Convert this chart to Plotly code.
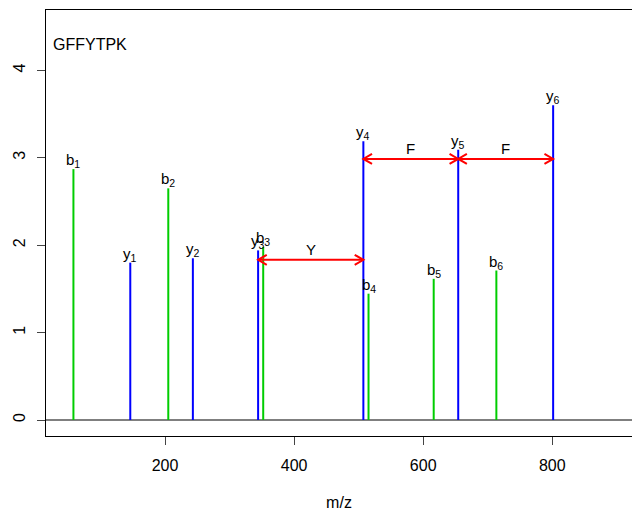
import math
import plotly.graph_objects as go

# ---- data ----
peptide = "GFFYTPK"
b_labels = ["1", "2", "3", "4", "5", "6"]
b_mz = [58.0, 205.0, 352.1, 515.3, 616.3, 713.4]
b_int = [2.87, 2.65, 1.98, 1.445, 1.615, 1.71]
y_labels = ["1", "2", "3", "4", "5", "6"]
y_mz = [146.1, 243.1, 344.2, 507.3, 654.3, 801.4]
y_int = [1.80, 1.85, 1.94, 3.19, 3.09, 3.60]
gap_from = [2, 3, 4]          # index into y ions
gap_to = [3, 4, 5]
gap_res = ["Y", "F", "F"]
gap_height = [1.833, 2.987, 2.987]
x_ticks = [200, 400, 600, 800]
y_ticks = [0, 1, 2, 3, 4]

FONT = "Liberation Sans, Arial, Helvetica, sans-serif"
FS = 16
GREEN = "#00CD00"
BLUE = "#0000FF"
RED = "#FF0000"

W, H = 632, 511
M = dict(l=46, r=0, t=10, b=75)
XR = [15.5, 923.6]
YR = [-0.183, 4.69]
px_x = (W - M["l"] - M["r"]) / (XR[1] - XR[0])
px_y = (H - M["t"] - M["b"]) / (YR[1] - YR[0])


def stems(xs, hs):
    X, Y = [], []
    for x, h in zip(xs, hs):
        X += [x, x, None]
        Y += [0, h, None]
    return X, Y


fig = go.Figure()
bx, by = stems(b_mz, b_int)
yx, yy = stems(y_mz, y_int)
fig.add_trace(go.Scatter(x=bx, y=by, mode="lines", line=dict(color=GREEN, width=2),
                         hoverinfo="skip", showlegend=False))
fig.add_trace(go.Scatter(x=yx, y=yy, mode="lines", line=dict(color=BLUE, width=2),
                         hoverinfo="skip", showlegend=False))

# double-headed arrows (R style open heads, 30 degrees)
head_len = 10.0
ang = math.radians(30)
hdx = head_len * math.cos(ang) / px_x
hdy = head_len * math.sin(ang) / px_y
AX, AY = [], []
for i0, i1, h in zip(gap_from, gap_to, gap_height):
    x0, x1 = y_mz[i0], y_mz[i1]
    AX += [x0, x1, None]
    AY += [h, h, None]
    AX += [x0 + hdx, x0, x0 + hdx, None]
    AY += [h + hdy, h, h - hdy, None]
    AX += [x1 - hdx, x1, x1 - hdx, None]
    AY += [h + hdy, h, h - hdy, None]
fig.add_trace(go.Scatter(x=AX, y=AY, mode="lines", line=dict(color=RED, width=2),
                         hoverinfo="skip", showlegend=False))

ann = []
for lab, x, h in zip(b_labels, b_mz, b_int):
    ann.append(dict(x=x, y=h, xref="x", yref="y", text=f"b<sub>{lab}</sub>",
                    showarrow=False, yanchor="bottom", xanchor="center", yshift=-3,
                    font=dict(family=FONT, size=FS - 1, color="black")))
for lab, x, h in zip(y_labels, y_mz, y_int):
    ann.append(dict(x=x, y=h, xref="x", yref="y", text=f"y<sub>{lab}</sub>",
                    showarrow=False, yanchor="bottom", xanchor="center", yshift=-3,
                    font=dict(family=FONT, size=FS - 1, color="black")))

for i0, i1, res, h in zip(gap_from, gap_to, gap_res, gap_height):
    x0, x1 = y_mz[i0], y_mz[i1]
    ann.append(dict(x=(x0 + x1) / 2, y=h, xref="x", yref="y", text=res, showarrow=False,
                    yanchor="bottom", xanchor="center", yshift=0,
                    font=dict(family=FONT, size=FS - 1, color="black")))

ann.append(dict(x=24, y=4.30, xref="x", yref="y", text=peptide, showarrow=False,
                xanchor="left", yanchor="middle",
                font=dict(family=FONT, size=FS, color="black")))

fig.update_layout(
    width=W, height=H,
    margin=M,
    paper_bgcolor="white", plot_bgcolor="white",
    font=dict(family=FONT, size=FS, color="black"),
    annotations=ann,
    showlegend=False,
)
fig.update_xaxes(range=XR, tickvals=x_ticks, ticktext=[str(t) for t in x_ticks],
                 ticks="outside", ticklen=8, tickcolor="#444", tickwidth=1,
                 ticklabelstandoff=7, automargin=False,
                 showline=True, linecolor="black", linewidth=1, mirror=True,
                 showgrid=False, zeroline=False,
                 title=dict(text="m/z", standoff=30, font=dict(family=FONT, size=FS)),
                 tickfont=dict(family=FONT, size=FS))
fig.update_yaxes(range=YR, tickvals=y_ticks, ticktext=[str(t) for t in y_ticks],
                 ticks="outside", ticklen=8, tickcolor="#444", tickwidth=1, tickangle=-90,
                 ticklabelstandoff=6, automargin=False,
                 showline=True, linecolor="black", linewidth=1, mirror=False,
                 showgrid=False, zeroline=True, zerolinecolor="#7F7F7F", zerolinewidth=1.5,
                 tickfont=dict(family=FONT, size=FS))

fig.write_html("out.html")
